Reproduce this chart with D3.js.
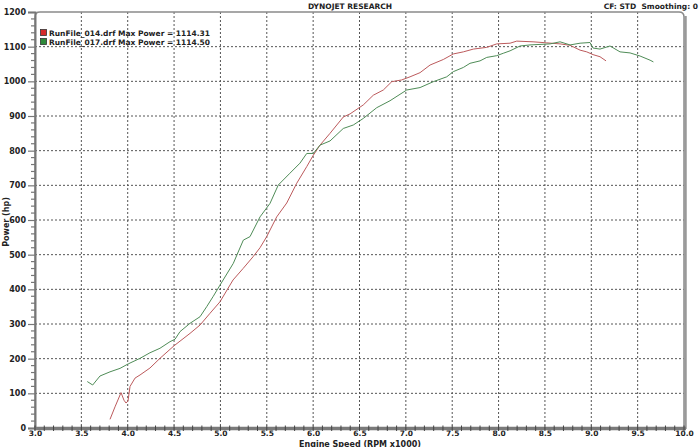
<!DOCTYPE html>
<html><head><meta charset="utf-8">
<script src="https://cdn.jsdelivr.net/npm/d3@7"></script>
<style>html,body{margin:0;padding:0;background:#fff;}svg{display:block;}</style>
</head><body>
<svg id="c" width="700" height="447"></svg>
<script>
const xTicks = [3.0,3.5,4.0,4.5,5.0,5.5,6.0,6.5,7.0,7.5,8.0,8.5,9.0,9.5,10.0];
const yTicks = [0,100,200,300,400,500,600,700,800,900,1000,1100,1200];
const seriesNames = ["RunFile_014.drf Max Power = 1114.31","RunFile_017.drf Max Power = 1114.50"];
const run014Rpm = [3.809,3.863,3.928,3.960,3.982,4.003,4.025,4.079,4.133,4.240,4.348,4.499,4.672,4.780,4.888,4.995,5.136,5.244,5.352,5.427,5.499,5.607,5.715,5.823,5.931,6.002,6.074,6.182,6.325,6.398,6.541,6.649,6.757,6.848,6.955,7.045,7.153,7.261,7.404,7.512,7.620,7.728,7.872,7.980,8.124,8.196,8.372,8.519,8.663,8.771,8.879,8.951,9.019,9.094,9.159];
const run014Hp  = [25,61,102,80,72,78,120,144,153,173,201,237,273,297,331,364,427,460,494,520,552,609,649,706,754,787,816,850,897,906,932,960,975,999,1004,1013,1025,1047,1063,1079,1085,1093,1098,1108,1110,1116,1114,1111,1108,1104,1090,1085,1077,1071,1059];
const run017Rpm = [3.564,3.622,3.701,3.809,3.917,4.006,4.133,4.240,4.348,4.456,4.510,4.564,4.672,4.780,4.852,4.923,4.995,5.139,5.247,5.319,5.427,5.535,5.624,5.750,5.858,5.931,6.002,6.074,6.182,6.325,6.433,6.541,6.686,6.829,7.009,7.153,7.296,7.441,7.512,7.620,7.692,7.800,7.872,7.980,8.051,8.124,8.232,8.339,8.555,8.663,8.771,8.879,8.986,9.019,9.094,9.202,9.310,9.418,9.526,9.634,9.670];
const run017Hp  = [134,124,150,162,172,185,201,217,230,249,256,278,302,321,350,380,412,475,542,552,609,648,701,735,764,792,792,816,828,864,874,893,924,944,975,982,999,1013,1028,1040,1052,1059,1069,1074,1081,1088,1102,1105,1108,1114,1105,1110,1112,1096,1093,1102,1085,1082,1073,1061,1056];

const svg = d3.select("#c");
const L=35, R=684, T=12, B=428;
const x = d3.scaleLinear().domain([3,10]).range([L,R]);
const y = d3.scaleLinear().domain([0,1200]).range([B,T]);
const font = "'DejaVu Sans', Verdana, sans-serif";

// grid
const g = svg.append("g");
g.selectAll("line.vg").data(xTicks.slice(1,-1)).enter().append("line")
  .attr("x1",d=>x(d)).attr("x2",d=>x(d)).attr("y1",T).attr("y2",B)
  .attr("stroke","#555").attr("stroke-width",1).attr("stroke-dasharray","2,2");
g.selectAll("line.hg").data(yTicks.slice(1,-1)).enter().append("line")
  .attr("x1",L).attr("x2",R).attr("y1",d=>y(d)).attr("y2",d=>y(d))
  .attr("stroke","#555").attr("stroke-width",1).attr("stroke-dasharray","2,2");

// frame: top with rounded corners, right with shadow
const rr=5;
svg.append("path")
  .attr("d",`M${L},${B} L${L},${T+rr} Q${L},${T} ${L+rr},${T} L${R-rr},${T} Q${R},${T} ${R},${T+rr} L${R},${B}`)
  .attr("fill","none").attr("stroke","#8a8a8a").attr("stroke-width",1.5);
svg.append("line").attr("x1",R+1.5).attr("x2",R+1.5).attr("y1",T+4).attr("y2",B+1)
  .attr("stroke","#999").attr("stroke-width",2.5);

// lines
const line = d3.line().x(d=>x(d[0])).y(d=>y(d[1]));
svg.append("path").datum(d3.zip(run014Rpm,run014Hp)).attr("d",line)
  .attr("fill","none").attr("stroke","#bc5a5c").attr("stroke-width",1);
svg.append("path").datum(d3.zip(run017Rpm,run017Hp)).attr("d",line)
  .attr("fill","none").attr("stroke","#4f8c57").attr("stroke-width",1);

// left axis
const yAxis = d3.axisLeft(y).tickValues(yTicks).tickFormat(d3.format("d")).tickSize(7).tickPadding(2);
const ya = svg.append("g").attr("transform",`translate(${L},0)`).call(yAxis);
ya.select(".domain").attr("stroke","#777").attr("stroke-width",2);
ya.selectAll(".tick line").attr("stroke","#777").attr("stroke-width",1.2);
ya.selectAll("text").attr("font-family",font).attr("font-size","8px").attr("font-weight","bold").attr("fill","#222");
const yMinor = d3.range(0,1201,20).filter(v=>v%100!==0);
svg.append("g").selectAll("line").data(yMinor).enter().append("line")
  .attr("x1",L-4).attr("x2",L+1).attr("y1",d=>y(d)).attr("y2",d=>y(d))
  .attr("stroke","#777").attr("stroke-width",1.2);

// bottom axis
const xAxis = d3.axisBottom(x).tickValues(xTicks).tickFormat(d3.format(".1f")).tickSize(0).tickPadding(3);
const xa = svg.append("g").attr("transform",`translate(0,${B})`).call(xAxis);
xa.select(".domain").remove();
xa.selectAll("text").attr("font-family",font).attr("font-size","7.5px").attr("font-weight","bold").attr("fill","#222");
svg.append("line").attr("x1",L-1).attr("x2",R+2).attr("y1",B+0.5).attr("y2",B+0.5)
  .attr("stroke","#7a7a7a").attr("stroke-width",3.5);
const xMinor = d3.range(30,101,1).map(v=>v/10);
svg.append("g").selectAll("line").data(xMinor).enter().append("line")
  .attr("x1",d=>x(d)).attr("x2",d=>x(d)).attr("y1",B-2.5).attr("y2",B+3)
  .attr("stroke","#444").attr("stroke-width",1);

// titles
svg.append("text").attr("x",350).attr("y",9).attr("text-anchor","middle")
  .attr("font-family",font).attr("font-size","7.5px").attr("font-weight","bold").attr("fill","#222").text("DYNOJET RESEARCH");
svg.append("text").attr("x",698).attr("y",9).attr("text-anchor","end")
  .attr("font-family",font).attr("font-size","7.5px").attr("font-weight","bold").attr("fill","#222").attr("xml:space","preserve").text("CF: STD  Smoothing: 0");
svg.append("text").attr("x",360).attr("y",446.5).attr("text-anchor","middle")
  .attr("font-family",font).attr("font-size","8px").attr("font-weight","bold").attr("fill","#222").text("Engine Speed (RPM x1000)");
svg.append("text").attr("transform","translate(9,222) rotate(-90)").attr("text-anchor","middle")
  .attr("font-family",font).attr("font-size","8px").attr("font-weight","bold").attr("fill","#222").text("Power (hp)");

// legend
const colors=["#d42a2a","#2e8a3a"];
seriesNames.forEach((n,i)=>{
  const yy = 29 + i*9;
  svg.append("rect").attr("x",40.5).attr("y",yy+0.5).attr("width",6).attr("height",6)
    .attr("fill",colors[i]).attr("stroke","#333").attr("stroke-width",0.8);
  svg.append("text").attr("x",49).attr("y",yy+6.5).attr("font-family",font).attr("font-size","7.5px")
    .attr("font-weight","bold").attr("fill","#222").text(n);
});
</script>
</body></html>
